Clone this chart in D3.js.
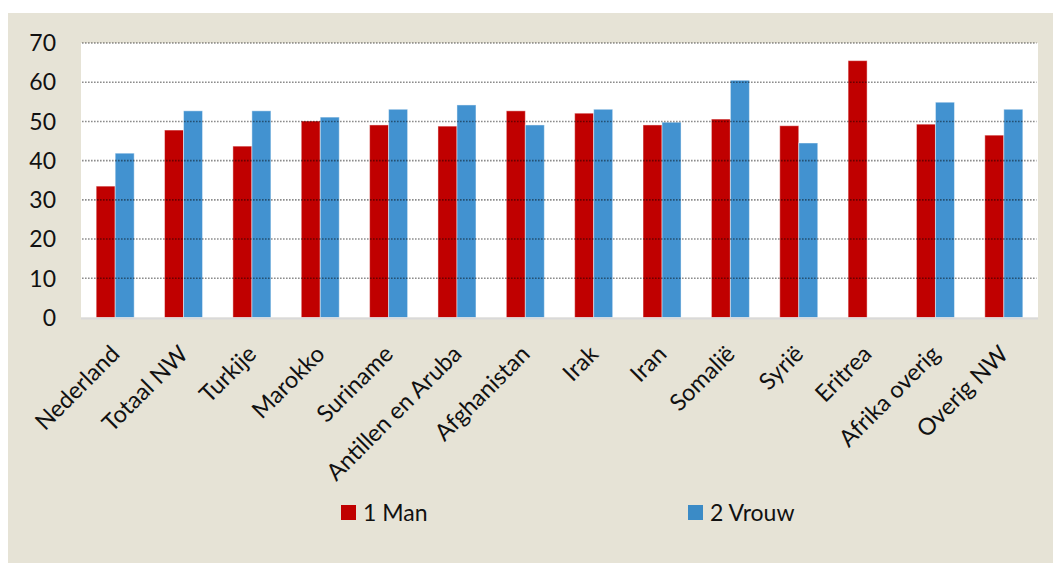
<!DOCTYPE html>
<html>
<head>
<meta charset="utf-8">
<script src="https://cdn.jsdelivr.net/npm/d3@7"></script>
<style>
  body { margin: 0; background: #fff; }
  svg { display: block; font-family: Lato, "Open Sans", sans-serif; }
</style>
</head>
<body>
<script>
// chart data
var categories = ["Nederland", "Totaal NW", "Turkije", "Marokko", "Suriname", "Antillen en Aruba",
                  "Afghanistan", "Irak", "Iran", "Somalië", "Syrië", "Eritrea", "Afrika overig", "Overig NW"];
var manValues   = [33.5, 47.8, 43.7, 50.1, 49.1, 48.8, 52.7, 52.1, 49.1, 50.6, 48.9, 65.5, 49.3, 46.5];
var vrouwValues = [41.9, 52.7, 52.7, 51.1, 53.1, 54.2, 49.1, 53.1, 49.8, 60.5, 44.5, null, 54.9, 53.1];
var seriesNames = ["1 Man", "2 Vrouw"];
var yTicks = [0, 10, 20, 30, 40, 50, 60, 70];

var width = 1053, height = 563;
var colors = ["#c00000", "#4292d0"];

var svg = d3.select("body").append("svg")
    .attr("width", width)
    .attr("height", height);

// beige chart panel
svg.append("rect")
    .attr("x", 8).attr("y", 13)
    .attr("width", width - 8).attr("height", height - 13)
    .attr("fill", "#e6e3d6");

var plot = { left: 81, right: 1038, top: 43, bottom: 317.5 };

svg.append("rect")
    .attr("x", plot.left).attr("y", plot.top)
    .attr("width", plot.right - plot.left).attr("height", plot.bottom - plot.top)
    .attr("fill", "#fff");

var x = d3.scaleBand()
    .domain(categories)
    .range([plot.left, plot.right]);

var inner = d3.scaleBand()
    .domain([0, 1])
    .range([0, 38]);

var y = d3.scaleLinear()
    .domain([0, 70])
    .range([plot.bottom, plot.top]);

// bars
var rows = categories.map(function(c, i) {
    return { cat: c, vals: [manValues[i], vrouwValues[i]] };
});

var groups = svg.selectAll(".grp")
    .data(rows)
    .enter().append("g")
    .attr("class", "grp")
    .attr("transform", function(d) {
        return "translate(" + (x(d.cat) + x.bandwidth() / 2 - 19) + ",0)";
    });

groups.selectAll("rect")
    .data(function(d) {
        return d.vals.map(function(v, k) { return { v: v, k: k }; })
                     .filter(function(o) { return o.v != null; });
    })
    .enter().append("rect")
    .attr("x", function(d) { return inner(d.k); })
    .attr("width", inner.bandwidth())
    .attr("y", function(d) { return y(d.v); })
    .attr("height", function(d) { return y(0) - y(d.v); })
    .attr("fill", function(d) { return colors[d.k]; })
    .attr("stroke", "#fff")
    .attr("stroke-opacity", 0.45)
    .attr("stroke-width", 1);

// dotted gridlines (drawn over the bars like the original)
svg.selectAll(".grid")
    .data(yTicks.filter(function(t) { return t > 0; }))
    .enter().append("line")
    .attr("class", "grid")
    .attr("x1", plot.left + 1).attr("x2", plot.right - 1.5)
    .attr("y1", function(d) { return y(d); })
    .attr("y2", function(d) { return y(d); })
    .attr("stroke", "#000")
    .attr("stroke-opacity", 0.45)
    .attr("stroke-width", 1.6)
    .attr("stroke-dasharray", "1.6,1.4");

// x axis baseline
svg.append("line")
    .attr("x1", plot.left).attr("x2", plot.right)
    .attr("y1", plot.bottom + 1).attr("y2", plot.bottom + 1)
    .attr("stroke", "#d9d9d9")
    .attr("stroke-width", 2);

// y axis labels
svg.selectAll(".ylab")
    .data(yTicks)
    .enter().append("text")
    .attr("class", "ylab")
    .attr("x", 56)
    .attr("y", function(d) { return y(d); })
    .attr("dy", "0.36em")
    .attr("text-anchor", "end")
    .attr("font-size", 23)
    .attr("fill", "#111")
    .text(function(d) { return d; });

// category labels at 45 degrees
svg.selectAll(".xlab")
    .data(categories)
    .enter().append("text")
    .attr("class", "xlab")
    .attr("text-anchor", "end")
    .attr("font-size", 23.5)
    .attr("fill", "#111")
    .attr("transform", function(d) {
        return "translate(" + (x(d) + x.bandwidth() / 2 + 6) + "," + (plot.bottom + 38) + ") rotate(-45)";
    })
    .text(function(d) { return d; });

// legend
var legend = svg.selectAll(".leg")
    .data(seriesNames)
    .enter().append("g")
    .attr("class", "leg")
    .attr("transform", function(d, i) { return "translate(" + (341 + i * 347) + ",505)"; });

legend.append("rect")
    .attr("width", 15).attr("height", 15)
    .attr("fill", function(d, i) { return i === 0 ? "#c00000" : "#3b8bc6"; });

legend.append("text")
    .attr("x", 22).attr("y", 16)
    .attr("font-size", 23)
    .attr("fill", "#111")
    .text(function(d) { return d; });
</script>
</body>
</html>
